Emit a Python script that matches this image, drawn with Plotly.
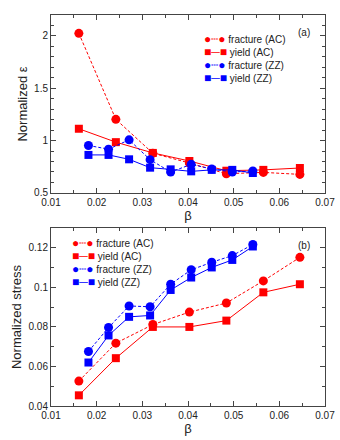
import plotly.graph_objects as go
from plotly.subplots import make_subplots

# beta values
beta_ac = [0.0161, 0.0242, 0.0323, 0.0403, 0.0484, 0.0565, 0.0645]
beta_zz = [0.0182, 0.0226, 0.0271, 0.0317, 0.0362, 0.0407, 0.0452, 0.0497, 0.0542]

# (a) normalized strain
eps_frac_ac = [2.025, 1.203, 0.879, 0.786, 0.683, 0.696, 0.677]
eps_yield_ac = [1.113, 0.985, 0.882, 0.805, 0.712, 0.720, 0.738]
eps_frac_zz = [0.953, 0.918, 1.007, 0.818, 0.699, 0.773, 0.728, 0.700, 0.709]
eps_yield_zz = [0.863, 0.863, 0.821, 0.741, 0.725, 0.706, 0.720, 0.720, 0.690]

# (b) normalized stress
sig_frac_ac = [0.0526, 0.0718, 0.0812, 0.0875, 0.0921, 0.1033, 0.1152]
sig_yield_ac = [0.0454, 0.0642, 0.0800, 0.0800, 0.0832, 0.0975, 0.1016]
sig_frac_zz = [0.0676, 0.0797, 0.0906, 0.0902, 0.1016, 0.1089, 0.1127, 0.1161, 0.1217]
sig_yield_zz = [0.0620, 0.0757, 0.0851, 0.0858, 0.0987, 0.1050, 0.1101, 0.1139, 0.1207]

RED = '#ff0000'
BLUE = '#0000ff'
FONT = 'Liberation Sans, Arial, sans-serif'

series = [
    ('fracture (AC)', beta_ac, eps_frac_ac, sig_frac_ac, RED, 'circle', '3px,2px'),
    ('yield (AC)', beta_ac, eps_yield_ac, sig_yield_ac, RED, 'square', 'solid'),
    ('fracture (ZZ)', beta_zz, eps_frac_zz, sig_frac_zz, BLUE, 'circle', '3px,2px'),
    ('yield (ZZ)', beta_zz, eps_yield_zz, sig_yield_zz, BLUE, 'square', 'solid'),
]

fig = make_subplots(rows=2, cols=1, vertical_spacing=0.09)

for name, x, ya, yb, color, sym, dash in series:
    msize = 9 if sym == 'circle' else 8
    for row, y in ((1, ya), (2, yb)):
        fig.add_trace(go.Scatter(x=x, y=y, name=name, mode='lines+markers',
                                 line=dict(color=color, width=1, dash=dash),
                                 marker=dict(color=color, symbol=sym, size=msize),
                                 showlegend=False), row=row, col=1)

# legend written as text, Grace style (symbol-line-symbol)
legend_lines = []
for name, x, ya, yb, color, sym, dash in series:
    glyph = '●' if sym == 'circle' else '■'
    link = '┄' if dash != 'solid' else '─'
    legend_lines.append(f'<span style="color:{color};font-size:12px">{glyph}{link}{glyph}</span> {name}')
legend_text = '<br>'.join(legend_lines)

axis_style = dict(showline=True, linecolor='#444', linewidth=1, mirror='allticks',
                  ticks='inside', ticklen=5, tickcolor='#444', showgrid=False,
                  zeroline=False, automargin=False, tickfont=dict(size=10, color='#222'),
                  minor=dict(ticks='inside', ticklen=3, tickcolor='#444'))

fig.update_xaxes(**axis_style, range=[0.01, 0.07], dtick=0.01, tickformat='.2f')
fig.update_xaxes(minor_dtick=0.005)
fig.update_xaxes(title=dict(text='β', font=dict(size=13), standoff=2))
fig.update_yaxes(**axis_style)
fig.update_yaxes(range=[0.5, 2.2], tickvals=[0.5, 1, 1.5, 2], ticktext=['0.5', '1', '1.5', '2'],
                 minor=dict(dtick=0.1), row=1, col=1,
                 title=dict(text='Normalized ε', font=dict(size=13), standoff=3))
fig.update_yaxes(range=[0.04, 0.13], tickvals=[0.04, 0.06, 0.08, 0.1, 0.12],
                 ticktext=['0.04', '0.06', '0.08', '0.1', '0.12'],
                 minor=dict(dtick=0.01), row=2, col=1,
                 title=dict(text='Normalized stress', font=dict(size=13), standoff=3))

fig.update_layout(
    width=340, height=440,
    margin=dict(l=51, r=15, t=15, b=34),
    plot_bgcolor='white', paper_bgcolor='white',
    font=dict(family=FONT, color='#222'),
    yaxis_domain=[0.545, 1.0], yaxis2_domain=[0.0, 0.455],
    showlegend=False,
    annotations=[
        dict(text='(a)', x=0.953, y=0.975, xref='paper', yref='paper', xanchor='right',
             yanchor='top', showarrow=False, font=dict(size=10)),
        dict(text='(b)', x=0.953, y=0.43, xref='paper', yref='paper', xanchor='right',
             yanchor='top', showarrow=False, font=dict(size=10)),
        dict(text=legend_text, x=0.55, y=0.962, xref='paper', yref='paper', xanchor='left',
             yanchor='top', showarrow=False, align='left', font=dict(size=10)),
        dict(text=legend_text, x=0.07, y=0.44, xref='paper', yref='paper', xanchor='left',
             yanchor='top', showarrow=False, align='left', font=dict(size=10)),
    ],
)

fig.write_html('out.html', config={'displayModeBar': False},
               post_script="document.body.style.margin='0';")
